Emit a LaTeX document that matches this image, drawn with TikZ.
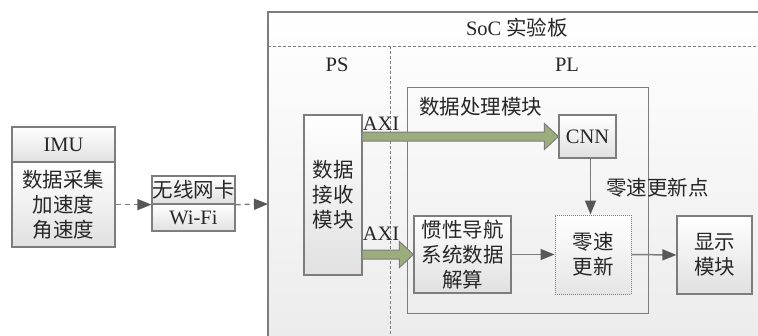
\documentclass[tikz,border=0pt]{standalone}
\usepackage{fontspec}
\setmainfont{Liberation Serif}
\newfontfamily\cjk{Noto Sans CJK SC}
\usetikzlibrary{arrows.meta,calc}
\definecolor{lineC}{RGB}{125,125,125}
\definecolor{arrC}{RGB}{88,88,88}
\definecolor{axiC}{RGB}{155,172,125}
\begin{document}
\begin{tikzpicture}[x=1pt,y=-1pt,
  box/.style={draw=lineC, line width=1.2pt, top color=white, bottom color=black!12, inner sep=0pt},
  plainbox/.style={draw=lineC, line width=1.2pt, inner sep=0pt},
  txt/.style={font=\fontsize{20.5}{25}\selectfont, align=center, text=black!85, inner sep=0pt},
  flow/.style={draw=lineC, line width=1.5pt, -{Triangle[length=14pt,width=11pt,color=arrC]}},
  dflow/.style={flow, dash pattern=on 5pt off 4pt},
  sep/.style={draw=lineC, line width=0.9pt, dash pattern=on 3pt off 2pt},
  axi/.style={draw=lineC, line width=1pt, fill=axiC}
]
\useasboundingbox (0,0) rectangle (758,335);
\fill[white] (0,0) rectangle (758,335);
% SoC board
\begin{scope}
\clip (0,0) rectangle (758,335);
\path[draw=lineC, line width=1.2pt, top color=white, bottom color=black!8] (268,12) rectangle (780,360);
\path[sep] (268,46) -- (758,46);
\path[sep] (390,46) -- (390,335);
\end{scope}
\coordinate (socL) at (268,204);
\node[txt] (soc) at (517,28) {SoC {\cjk 实验板}};
\node[txt] (ps) at (337,65) {PS};
\node[txt] (pl) at (567,65) {PL};

% processing module frame
\node[plainbox, minimum width=241, minimum height=226, anchor=north west] (proc) at (407,87) {};
\node[txt, anchor=west] (proct) at (419,107) {\cjk 数据处理模块};

% IMU
\node[box, minimum width=103, minimum height=35] (imuh) at (63.5,144.5) {};
\node[box, minimum width=103, minimum height=85] (imub) at (63.5,204.5) {};
\node[txt] at (imuh) {IMU};
\node[txt] at (imub) {\cjk 数据采集\\\cjk 加速度\\\cjk 角速度};

% WiFi
\node[box, minimum width=83, minimum height=28] (wifih) at (193.5,190) {};
\node[box, minimum width=83, minimum height=27] (wifib) at (193.5,217.5) {};
\node[txt] at (wifih) {\cjk 无线网卡};
\node[txt] at (wifib) {Wi-Fi};

% receive module
\node[box, minimum width=58, minimum height=160] (recv) at (333,195) {};
\node[txt] at (recv) {\cjk 数据\\\cjk 接收\\\cjk 模块};

% CNN
\node[box, minimum width=57, minimum height=43] (cnn) at (587.5,136.5) {};
\node[txt] at (cnn) {CNN};

% INS
\node[box, minimum width=97, minimum height=77] (ins) at (462.5,254.5) {};
\node[txt] at (ins) {\cjk 惯性导航\\\cjk 系统数据\\\cjk 解算};

% ZUPT
\node[draw=lineC, line width=1pt, densely dotted, top color=white, bottom color=black!10, inner sep=0pt, minimum width=76, minimum height=79] (zupt) at (593,254.5) {};
\node[txt] at (zupt) {\cjk 零速\\\cjk 更新};

% display
\node[box, minimum width=75, minimum height=78] (disp) at (714.5,255) {};
\node[txt] at (disp) {\cjk 显示\\\cjk 模块};

% dashed arrows
\draw[dflow] (imub.east |- wifih.south west) -- (wifih.south west);
\draw[dflow] (wifih.south east) -- (socL);

% AXI block arrows
\coordinate (a1) at (recv.east |- cnn.west);
\coordinate (b1) at (cnn.west);
\path[axi] ($(a1)+(0,4.5)$) -- ($(b1)+(-14,4.5)$) -- ($(b1)+(-14,13)$) -- (b1) -- ($(b1)+(-14,-13)$) -- ($(b1)+(-14,-4.5)$) -- ($(a1)+(0,-4.5)$);
\coordinate (a2) at (recv.east |- ins.west);
\coordinate (b2) at (ins.west);
\path[axi] ($(a2)+(0,4.5)$) -- ($(b2)+(-14,4.5)$) -- ($(b2)+(-14,13)$) -- (b2) -- ($(b2)+(-14,-13)$) -- ($(b2)+(-14,-4.5)$) -- ($(a2)+(0,-4.5)$);
\node[txt, anchor=south west] (axi1) at ($(recv.east |- cnn.west)+(0,-6)$) {AXI};
\node[txt, anchor=south west] (axi2) at ($(recv.east |- ins.west)+(0,-14)$) {AXI};

% flow arrows
\draw[flow] ([xshift=3pt]cnn.south) -- ([xshift=3pt]cnn.south |- zupt.north);
\node[txt, anchor=west] (zlab) at (606,188) {\cjk 零速更新点};
\draw[flow] (ins.east) -- (zupt.west);
\draw[flow] (zupt.east) -- (disp.west);
\end{tikzpicture}
\end{document}
